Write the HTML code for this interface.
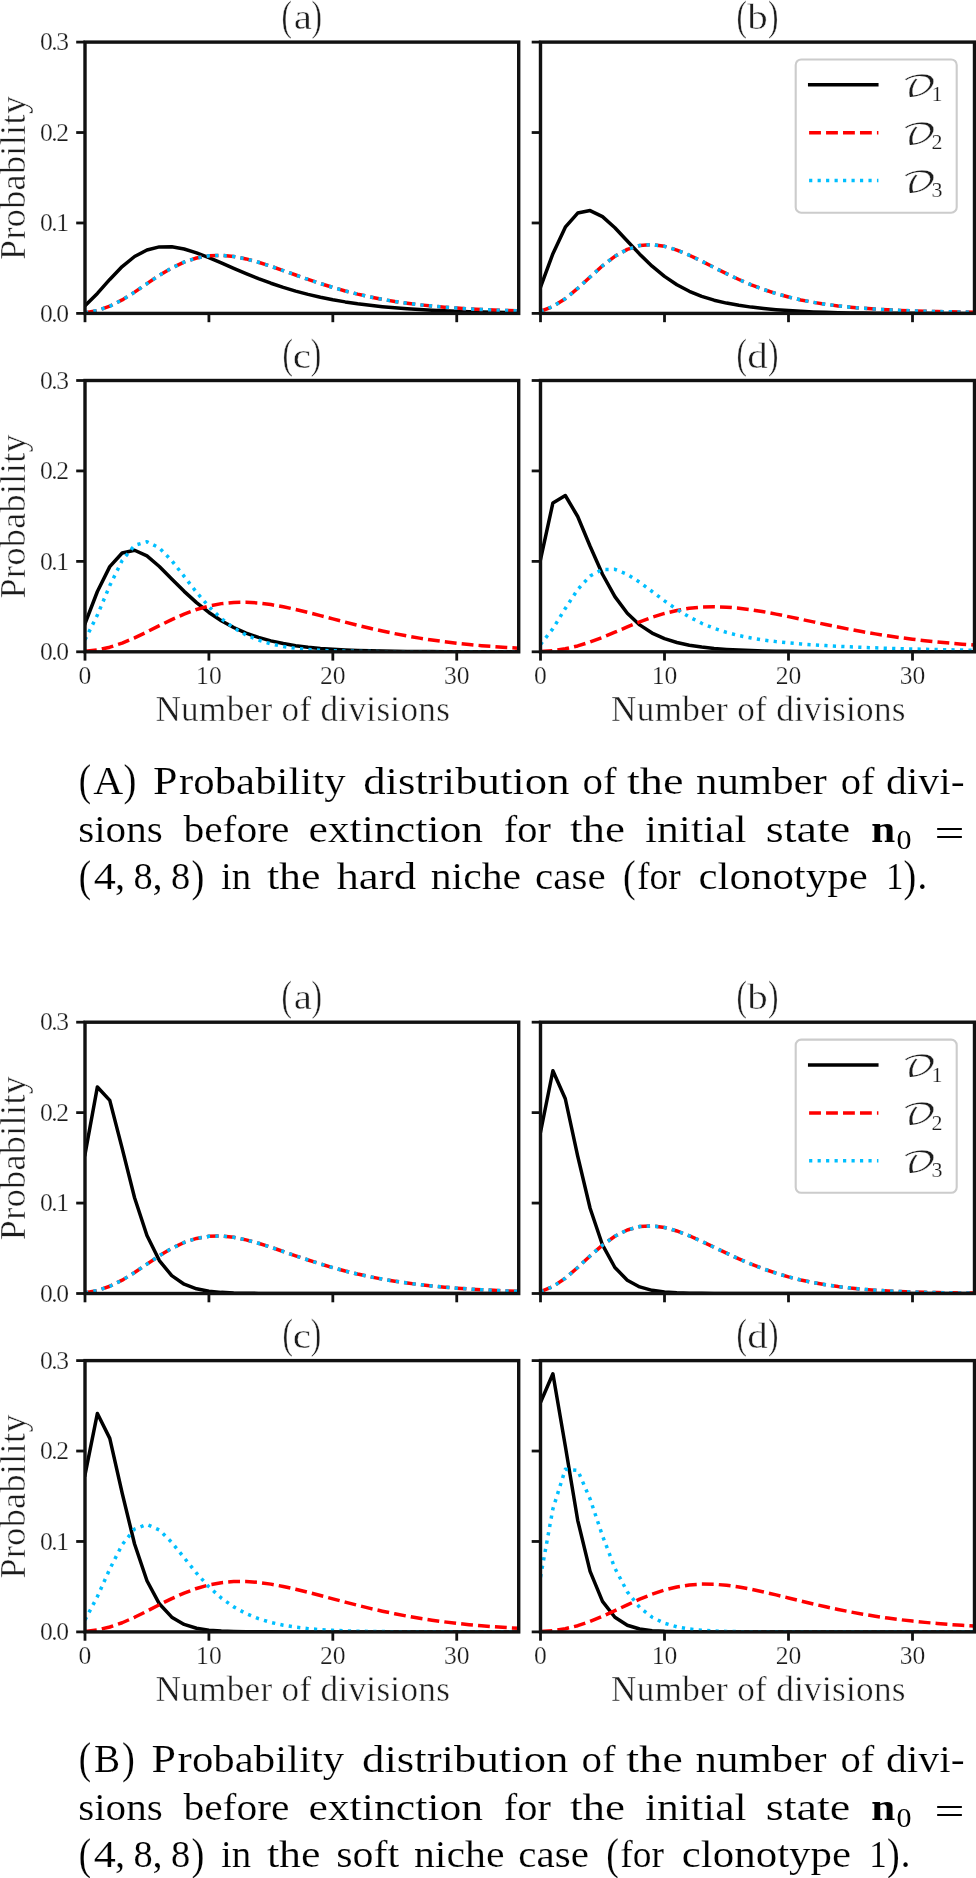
<!DOCTYPE html>
<html><head><meta charset="utf-8"><title>Figure</title>
<style>html,body{margin:0;padding:0;background:#fff}svg{display:block;will-change:transform}</style>
</head><body>
<svg width="976" height="1878" viewBox="0 0 976 1878" font-family="'Liberation Serif','DejaVu Serif',serif" fill="#1c1c1c">
<g id="fig" stroke="#fff" stroke-width="0.45">
<rect width="976" height="1878" fill="#fff"/>
<clipPath id="c85_42"><rect x="85.0" y="42.1" width="433.70" height="271.30"/></clipPath>
<g clip-path="url(#c85_42)" fill="none" stroke-width="3.5" stroke-linejoin="round">
<polyline points="85.00,305.82 97.39,293.41 109.78,279.44 122.17,266.58 134.57,256.51 146.96,249.95 159.35,246.88 171.74,246.80 184.13,249.03 196.52,252.87 208.91,257.68 221.31,262.97 233.70,268.38 246.09,273.66 258.48,278.63 270.87,283.22 283.26,287.38 295.65,291.09 308.05,294.37 320.44,297.25 332.83,299.75 345.22,301.90 357.61,303.76 370.00,305.34 382.39,306.69 394.79,307.82 407.18,308.78 419.57,309.59 431.96,310.26 444.35,310.82 456.74,311.28 469.13,311.67 481.53,311.99 493.92,312.25 506.31,312.46 518.70,312.64" stroke="#000" stroke-linecap="square"/>
<polyline points="85.00,312.71 97.39,310.48 109.78,306.21 122.17,299.92 134.57,292.12 146.96,283.64 159.35,275.32 171.74,267.95 184.13,262.06 196.52,257.99 208.91,255.79 221.31,255.38 233.70,256.53 246.09,258.93 258.48,262.28 270.87,266.25 283.26,270.57 295.65,275.01 308.05,279.38 320.44,283.54 332.83,287.42 345.22,290.96 357.61,294.12 370.00,296.92 382.39,299.35 394.79,301.46 407.18,303.26 419.57,304.79 431.96,306.09 444.35,307.18 456.74,308.09 469.13,308.86 481.53,309.50 493.92,310.04 506.31,310.49 518.70,310.87" stroke="#ff0000" stroke-dasharray="11.84 5.12"/>
<polyline points="85.00,312.71 97.39,310.48 109.78,306.21 122.17,299.92 134.57,292.12 146.96,283.64 159.35,275.32 171.74,267.95 184.13,262.06 196.52,257.99 208.91,255.79 221.31,255.38 233.70,256.53 246.09,258.93 258.48,262.28 270.87,266.25 283.26,270.57 295.65,275.01 308.05,279.38 320.44,283.54 332.83,287.42 345.22,290.96 357.61,294.12 370.00,296.92 382.39,299.35 394.79,301.46 407.18,303.26 419.57,304.79 431.96,306.09 444.35,307.18 456.74,308.09 469.13,308.86 481.53,309.50 493.92,310.04 506.31,310.49 518.70,310.87" stroke="#00bfff" stroke-dasharray="3.2 5.28"/>
</g>
<g stroke="#111" stroke-width="2.8">
<line x1="85.00" y1="313.4" x2="85.00" y2="322.2"/>
<line x1="208.91" y1="313.4" x2="208.91" y2="322.2"/>
<line x1="332.83" y1="313.4" x2="332.83" y2="322.2"/>
<line x1="456.74" y1="313.4" x2="456.74" y2="322.2"/>
<line x1="85.0" y1="313.40" x2="76.2" y2="313.40"/>
<line x1="85.0" y1="222.97" x2="76.2" y2="222.97"/>
<line x1="85.0" y1="132.53" x2="76.2" y2="132.53"/>
<line x1="85.0" y1="42.10" x2="76.2" y2="42.10"/>
</g>
<rect x="85.0" y="42.1" width="433.70" height="271.30" fill="none" stroke="#111" stroke-width="3.4"/>
<text x="69.1" y="321.60" font-size="25.6" stroke-width="0.25" text-anchor="end" textLength="29.2" lengthAdjust="spacing">0.0</text>
<text x="69.1" y="231.17" font-size="25.6" stroke-width="0.25" text-anchor="end" textLength="29.2" lengthAdjust="spacing">0.1</text>
<text x="69.1" y="140.73" font-size="25.6" stroke-width="0.25" text-anchor="end" textLength="29.2" lengthAdjust="spacing">0.2</text>
<text x="69.1" y="50.30" font-size="25.6" stroke-width="0.25" text-anchor="end" textLength="29.2" lengthAdjust="spacing">0.3</text>
<text transform="translate(24.6,178.05) rotate(-90)" font-size="36" text-anchor="middle" textLength="164" lengthAdjust="spacing">Probability</text>
<text transform="translate(291.95,29.70) scale(0.74,1)" font-size="42.5" text-anchor="end">(</text>
<text transform="translate(302.75,29.10) scale(1.17,1)" font-size="35" text-anchor="middle">a</text>
<text transform="translate(311.45,29.70) scale(0.74,1)" font-size="42.5" text-anchor="start">)</text>
<clipPath id="c540_42"><rect x="540.5" y="42.1" width="434.00" height="271.30"/></clipPath>
<g clip-path="url(#c540_42)" fill="none" stroke-width="3.5" stroke-linejoin="round">
<polyline points="540.50,287.23 552.90,253.68 565.30,227.19 577.70,213.04 590.10,210.58 602.50,216.66 614.90,227.76 627.30,240.94 639.70,254.15 652.10,266.17 664.50,276.42 676.90,284.76 689.30,291.31 701.70,296.35 714.10,300.18 726.50,303.09 738.90,305.34 751.30,307.11 763.70,308.52 776.10,309.67 788.50,310.59 800.90,311.32 813.30,311.90 825.70,312.34 838.10,312.67 850.50,312.91 862.90,313.08 875.30,313.19 887.70,313.27 900.10,313.32 912.50,313.35 924.90,313.37 937.30,313.38 949.70,313.39 962.10,313.39 974.50,313.40" stroke="#000" stroke-linecap="square"/>
<polyline points="540.50,311.29 552.90,306.49 565.30,298.70 577.70,288.45 590.10,276.98 602.50,265.81 614.90,256.30 627.30,249.39 639.70,245.50 652.10,244.61 664.50,246.32 676.90,250.07 689.30,255.23 701.70,261.20 714.10,267.48 726.50,273.68 738.90,279.51 751.30,284.82 763.70,289.52 776.10,293.58 788.50,297.04 800.90,299.93 813.30,302.32 825.70,304.29 838.10,305.89 850.50,307.20 862.90,308.26 875.30,309.11 887.70,309.81 900.10,310.38 912.50,310.84 924.90,311.23 937.30,311.55 949.70,311.81 962.10,312.03 974.50,312.22" stroke="#ff0000" stroke-dasharray="11.84 5.12"/>
<polyline points="540.50,311.29 552.90,306.49 565.30,298.70 577.70,288.45 590.10,276.98 602.50,265.81 614.90,256.30 627.30,249.39 639.70,245.50 652.10,244.61 664.50,246.32 676.90,250.07 689.30,255.23 701.70,261.20 714.10,267.48 726.50,273.68 738.90,279.51 751.30,284.82 763.70,289.52 776.10,293.58 788.50,297.04 800.90,299.93 813.30,302.32 825.70,304.29 838.10,305.89 850.50,307.20 862.90,308.26 875.30,309.11 887.70,309.81 900.10,310.38 912.50,310.84 924.90,311.23 937.30,311.55 949.70,311.81 962.10,312.03 974.50,312.22" stroke="#00bfff" stroke-dasharray="3.2 5.28"/>
</g>
<g stroke="#111" stroke-width="2.8">
<line x1="540.50" y1="313.4" x2="540.50" y2="322.2"/>
<line x1="664.50" y1="313.4" x2="664.50" y2="322.2"/>
<line x1="788.50" y1="313.4" x2="788.50" y2="322.2"/>
<line x1="912.50" y1="313.4" x2="912.50" y2="322.2"/>
<line x1="540.5" y1="313.40" x2="531.7" y2="313.40"/>
<line x1="540.5" y1="222.97" x2="531.7" y2="222.97"/>
<line x1="540.5" y1="132.53" x2="531.7" y2="132.53"/>
<line x1="540.5" y1="42.10" x2="531.7" y2="42.10"/>
</g>
<rect x="540.5" y="42.1" width="434.00" height="271.30" fill="none" stroke="#111" stroke-width="3.4"/>
<text transform="translate(746.90,29.70) scale(0.74,1)" font-size="42.5" text-anchor="end">(</text>
<text transform="translate(757.40,29.10) scale(1.17,1)" font-size="35" text-anchor="middle">b</text>
<text transform="translate(767.90,29.70) scale(0.74,1)" font-size="42.5" text-anchor="start">)</text>
<rect x="795.7" y="59.50" width="161.00" height="153.20" rx="5.5" fill="#fff" fill-opacity="0.8" stroke="#ccc" stroke-width="2.1"/>
<line x1="809.7" y1="84.80" x2="876.8" y2="84.80" stroke="#000" stroke-width="3.5" stroke-linecap="square"/>
<text transform="translate(901.8,96.00) scale(1.33,1)" stroke-width="0.25" font-size="28.5" font-family="'DejaVu Math TeX Gyre','DejaVu Serif',serif">&#x1D49F;</text>
<text x="931.6" y="101.40" stroke-width="0.2" font-size="22">1</text>
<line x1="809.1" y1="132.80" x2="878.4" y2="132.80" stroke="#ff0000" stroke-width="3.5" stroke-dasharray="11.84 5.12"/>
<text transform="translate(901.8,144.00) scale(1.33,1)" stroke-width="0.25" font-size="28.5" font-family="'DejaVu Math TeX Gyre','DejaVu Serif',serif">&#x1D49F;</text>
<text x="931.6" y="149.40" stroke-width="0.2" font-size="22">2</text>
<line x1="809.1" y1="180.60" x2="878.4" y2="180.60" stroke="#00bfff" stroke-width="3.5" stroke-dasharray="3.2 5.28"/>
<text transform="translate(901.8,191.80) scale(1.33,1)" stroke-width="0.25" font-size="28.5" font-family="'DejaVu Math TeX Gyre','DejaVu Serif',serif">&#x1D49F;</text>
<text x="931.6" y="197.20" stroke-width="0.2" font-size="22">3</text>
<clipPath id="c85_380"><rect x="85.0" y="380.5" width="433.70" height="271.30"/></clipPath>
<g clip-path="url(#c85_380)" fill="none" stroke-width="3.5" stroke-linejoin="round">
<polyline points="85.00,623.66 97.39,591.50 109.78,566.64 122.17,552.98 134.57,550.28 146.96,555.93 159.35,566.48 171.74,578.94 184.13,591.34 196.52,602.64 208.91,612.45 221.31,620.71 233.70,627.51 246.09,633.03 258.48,637.43 270.87,640.89 283.26,643.58 295.65,645.65 308.05,647.23 320.44,648.42 332.83,649.32 345.22,649.98 357.61,650.47 370.00,650.84 382.39,651.10 394.79,651.30 407.18,651.44 419.57,651.54 431.96,651.61 444.35,651.67 456.74,651.71 469.13,651.73 481.53,651.75 493.92,651.77 506.31,651.78 518.70,651.78" stroke="#000" stroke-linecap="square"/>
<polyline points="85.00,651.36 97.39,649.94 109.78,647.20 122.17,643.10 134.57,637.86 146.96,631.88 159.35,625.62 171.74,619.56 184.13,614.09 196.52,609.50 208.91,605.98 221.31,603.62 233.70,602.39 246.09,602.23 258.48,603.01 270.87,604.59 283.26,606.79 295.65,609.47 308.05,612.47 320.44,615.65 332.83,618.90 345.22,622.13 357.61,625.27 370.00,628.26 382.39,631.06 394.79,633.64 407.18,636.00 419.57,638.13 431.96,640.04 444.35,641.73 456.74,643.22 469.13,644.52 481.53,645.65 493.92,646.62 506.31,647.46 518.70,648.17" stroke="#ff0000" stroke-dasharray="11.84 5.12"/>
<polyline points="85.00,639.81 97.39,615.05 109.78,585.59 122.17,560.48 134.57,545.36 146.96,541.72 159.35,547.89 171.74,560.61 184.13,576.35 196.52,592.28 208.91,606.61 221.31,618.54 233.70,627.91 246.09,635.00 258.48,640.18 270.87,643.89 283.26,646.48 295.65,648.27 308.05,649.49 320.44,650.30 332.83,650.83 345.22,651.19 357.61,651.41 370.00,651.56 382.39,651.65 394.79,651.71 407.18,651.74 419.57,651.76 431.96,651.78 444.35,651.79 456.74,651.79 469.13,651.80 481.53,651.80 493.92,651.80 506.31,651.80 518.70,651.80" stroke="#00bfff" stroke-dasharray="3.2 5.28"/>
</g>
<g stroke="#111" stroke-width="2.8">
<line x1="85.00" y1="651.8" x2="85.00" y2="660.5999999999999"/>
<line x1="208.91" y1="651.8" x2="208.91" y2="660.5999999999999"/>
<line x1="332.83" y1="651.8" x2="332.83" y2="660.5999999999999"/>
<line x1="456.74" y1="651.8" x2="456.74" y2="660.5999999999999"/>
<line x1="85.0" y1="651.80" x2="76.2" y2="651.80"/>
<line x1="85.0" y1="561.37" x2="76.2" y2="561.37"/>
<line x1="85.0" y1="470.93" x2="76.2" y2="470.93"/>
<line x1="85.0" y1="380.50" x2="76.2" y2="380.50"/>
</g>
<rect x="85.0" y="380.5" width="433.70" height="271.30" fill="none" stroke="#111" stroke-width="3.4"/>
<text x="69.1" y="660.00" font-size="25.6" stroke-width="0.25" text-anchor="end" textLength="29.2" lengthAdjust="spacing">0.0</text>
<text x="69.1" y="569.57" font-size="25.6" stroke-width="0.25" text-anchor="end" textLength="29.2" lengthAdjust="spacing">0.1</text>
<text x="69.1" y="479.13" font-size="25.6" stroke-width="0.25" text-anchor="end" textLength="29.2" lengthAdjust="spacing">0.2</text>
<text x="69.1" y="388.70" font-size="25.6" stroke-width="0.25" text-anchor="end" textLength="29.2" lengthAdjust="spacing">0.3</text>
<text transform="translate(24.6,516.45) rotate(-90)" font-size="36" text-anchor="middle" textLength="164" lengthAdjust="spacing">Probability</text>
<text x="85.00" y="684.20" font-size="25.6" stroke-width="0.25" text-anchor="middle">0</text>
<text x="208.91" y="684.20" font-size="25.6" stroke-width="0.25" text-anchor="middle">10</text>
<text x="332.83" y="684.20" font-size="25.6" stroke-width="0.25" text-anchor="middle">20</text>
<text x="456.74" y="684.20" font-size="25.6" stroke-width="0.25" text-anchor="middle">30</text>
<text x="302.65" y="721.00" font-size="35.2" text-anchor="middle" textLength="294.5" lengthAdjust="spacing">Number of divisions</text>
<text transform="translate(292.95,368.10) scale(0.74,1)" font-size="42.5" text-anchor="end">(</text>
<text transform="translate(301.85,367.50) scale(1.17,1)" font-size="35" text-anchor="middle">c</text>
<text transform="translate(310.75,368.10) scale(0.74,1)" font-size="42.5" text-anchor="start">)</text>
<clipPath id="c540_380"><rect x="540.5" y="380.5" width="434.00" height="271.30"/></clipPath>
<g clip-path="url(#c540_380)" fill="none" stroke-width="3.5" stroke-linejoin="round">
<polyline points="540.50,559.77 552.90,502.88 565.30,495.51 577.70,516.49 590.10,546.25 602.50,574.23 614.90,596.65 627.30,613.21 639.70,624.91 652.10,633.03 664.50,638.62 676.90,642.48 689.30,645.18 701.70,647.07 714.10,648.41 726.50,649.37 738.90,650.06 751.30,650.56 763.70,650.91 776.10,651.17 788.50,651.35 800.90,651.48 813.30,651.58 825.70,651.64 838.10,651.69 850.50,651.72 862.90,651.75 875.30,651.76 887.70,651.77 900.10,651.78 912.50,651.79 924.90,651.79 937.30,651.79 949.70,651.80 962.10,651.80 974.50,651.80" stroke="#000" stroke-linecap="square"/>
<polyline points="540.50,651.54 552.90,650.65 565.30,648.82 577.70,645.93 590.10,642.03 602.50,637.35 614.90,632.20 627.30,626.93 639.70,621.87 652.10,617.31 664.50,613.45 676.90,610.43 689.30,608.32 701.70,607.10 714.10,606.74 726.50,607.14 738.90,608.19 751.30,609.79 763.70,611.80 776.10,614.12 788.50,616.64 800.90,619.26 813.30,621.91 825.70,624.53 838.10,627.07 850.50,629.49 862.90,631.77 875.30,633.88 887.70,635.83 900.10,637.61 912.50,639.22 924.90,640.67 937.30,641.96 949.70,643.12 962.10,644.14 974.50,645.05" stroke="#ff0000" stroke-dasharray="11.84 5.12"/>
<polyline points="540.50,644.48 552.90,628.64 565.30,608.43 577.70,589.50 590.10,575.95 602.50,569.39 614.90,569.36 627.30,574.27 639.70,582.22 652.10,591.50 664.50,600.85 676.90,609.48 689.30,616.99 701.70,623.26 714.10,628.34 726.50,632.39 738.90,635.58 751.30,638.08 763.70,640.05 776.10,641.63 788.50,642.91 800.90,643.96 813.30,644.85 825.70,645.61 838.10,646.27 850.50,646.86 862.90,647.38 875.30,647.85 887.70,648.26 900.10,648.64 912.50,648.99 924.90,649.29 937.30,649.57 949.70,649.82 962.10,650.05 974.50,650.25" stroke="#00bfff" stroke-dasharray="3.2 5.28"/>
</g>
<g stroke="#111" stroke-width="2.8">
<line x1="540.50" y1="651.8" x2="540.50" y2="660.5999999999999"/>
<line x1="664.50" y1="651.8" x2="664.50" y2="660.5999999999999"/>
<line x1="788.50" y1="651.8" x2="788.50" y2="660.5999999999999"/>
<line x1="912.50" y1="651.8" x2="912.50" y2="660.5999999999999"/>
<line x1="540.5" y1="651.80" x2="531.7" y2="651.80"/>
<line x1="540.5" y1="561.37" x2="531.7" y2="561.37"/>
<line x1="540.5" y1="470.93" x2="531.7" y2="470.93"/>
<line x1="540.5" y1="380.50" x2="531.7" y2="380.50"/>
</g>
<rect x="540.5" y="380.5" width="434.00" height="271.30" fill="none" stroke="#111" stroke-width="3.4"/>
<text x="540.50" y="684.20" font-size="25.6" stroke-width="0.25" text-anchor="middle">0</text>
<text x="664.50" y="684.20" font-size="25.6" stroke-width="0.25" text-anchor="middle">10</text>
<text x="788.50" y="684.20" font-size="25.6" stroke-width="0.25" text-anchor="middle">20</text>
<text x="912.50" y="684.20" font-size="25.6" stroke-width="0.25" text-anchor="middle">30</text>
<text x="758.30" y="721.00" font-size="35.2" text-anchor="middle" textLength="294.5" lengthAdjust="spacing">Number of divisions</text>
<text transform="translate(746.90,368.10) scale(0.74,1)" font-size="42.5" text-anchor="end">(</text>
<text transform="translate(757.50,367.50) scale(1.17,1)" font-size="35" text-anchor="middle">d</text>
<text transform="translate(767.90,368.10) scale(0.74,1)" font-size="42.5" text-anchor="start">)</text>
<g font-size="37.5" fill="#000" stroke="#fff" stroke-width="0.15">
<text transform="translate(78.85,794.80) scale(0.827,1)" font-size="45">(</text>
<text x="93.20" y="793.60" font-size="40.31" textLength="30.0" lengthAdjust="spacingAndGlyphs">A</text>
<text transform="translate(123.49,794.80) scale(0.858,1)" font-size="45">)</text>
<text x="152.90" y="793.60" font-size="40.31" textLength="24.5" lengthAdjust="spacingAndGlyphs">P</text>
<text x="179.00" y="793.60" textLength="166.6" lengthAdjust="spacingAndGlyphs">robability</text>
<text x="363.15" y="793.60" textLength="206.4" lengthAdjust="spacingAndGlyphs">distribution</text>
<text x="582.50" y="793.60" textLength="34.1" lengthAdjust="spacingAndGlyphs">of</text>
<text x="626.90" y="793.60" textLength="56.6" lengthAdjust="spacingAndGlyphs">the</text>
<text x="696.00" y="793.60" textLength="130.9" lengthAdjust="spacingAndGlyphs">number</text>
<text x="840.70" y="793.60" textLength="33.9" lengthAdjust="spacingAndGlyphs">of</text>
<text x="886.00" y="793.60" textLength="78.6" lengthAdjust="spacingAndGlyphs">divi-</text>
<text x="78.15" y="841.50" textLength="84.6" lengthAdjust="spacingAndGlyphs">sions</text>
<text x="183.40" y="841.50" textLength="106.0" lengthAdjust="spacingAndGlyphs">before</text>
<text x="308.40" y="841.50" textLength="174.7" lengthAdjust="spacingAndGlyphs">extinction</text>
<text x="503.80" y="841.50" textLength="47.1" lengthAdjust="spacingAndGlyphs">for</text>
<text x="570.00" y="841.50" textLength="55.0" lengthAdjust="spacingAndGlyphs">the</text>
<text x="645.00" y="841.50" textLength="101.6" lengthAdjust="spacingAndGlyphs">initial</text>
<text x="765.70" y="841.50" textLength="84.7" lengthAdjust="spacingAndGlyphs">state</text>
<text transform="translate(78.85,890.60) scale(0.827,1)" font-size="45">(</text>
<text x="93.80" y="889.40" textLength="22.1" lengthAdjust="spacingAndGlyphs">4</text>
<text x="115.00" y="889.40" font-size="40.5">,</text>
<text x="133.40" y="889.40" textLength="19.2" lengthAdjust="spacingAndGlyphs">8</text>
<text x="152.40" y="889.40" font-size="40.5">,</text>
<text x="171.00" y="889.40" textLength="19.2" lengthAdjust="spacingAndGlyphs">8</text>
<text transform="translate(191.59,890.60) scale(0.858,1)" font-size="45">)</text>
<text x="221.00" y="889.40" textLength="30.2" lengthAdjust="spacingAndGlyphs">in</text>
<text x="266.90" y="889.40" textLength="53.7" lengthAdjust="spacingAndGlyphs">the</text>
<text x="336.40" y="889.40" textLength="79.7" lengthAdjust="spacingAndGlyphs">hard</text>
<text x="430.65" y="889.40" textLength="90.5" lengthAdjust="spacingAndGlyphs">niche</text>
<text x="535.00" y="889.40" textLength="70.6" lengthAdjust="spacingAndGlyphs">case</text>
<text transform="translate(622.92,890.60) scale(0.842,1)" font-size="45">(</text>
<text x="637.00" y="889.40" textLength="43.6" lengthAdjust="spacingAndGlyphs">for</text>
<text x="698.50" y="889.40" textLength="169.3" lengthAdjust="spacingAndGlyphs">clonotype</text>
<text x="886.00" y="889.40" textLength="17.5" lengthAdjust="spacingAndGlyphs">1</text>
<text transform="translate(903.60,890.60) scale(0.850,1)" font-size="45">)</text>
<text x="917.20" y="889.40" font-size="40.5">.</text>
<text x="871" y="841.50" font-weight="bold" textLength="24.4" lengthAdjust="spacingAndGlyphs">n</text>
<text x="896.6" y="848.80" font-size="27" stroke="none" textLength="15" lengthAdjust="spacingAndGlyphs">0</text>
<text x="934.6" y="845.90" stroke="none" textLength="30" lengthAdjust="spacingAndGlyphs">=</text>
</g>
<clipPath id="c85_1022"><rect x="85.0" y="1022.2" width="433.70" height="271.30"/></clipPath>
<g clip-path="url(#c85_1022)" fill="none" stroke-width="3.5" stroke-linejoin="round">
<polyline points="85.00,1154.46 97.39,1086.94 109.78,1100.34 122.17,1148.32 134.57,1197.71 146.96,1235.56 159.35,1260.59 171.74,1275.67 184.13,1284.19 196.52,1288.78 208.91,1291.16 221.31,1292.37 233.70,1292.96 246.09,1293.25 258.48,1293.38 270.87,1293.45 283.26,1293.48 295.65,1293.49 308.05,1293.50 320.44,1293.50 332.83,1293.50 345.22,1293.50 357.61,1293.50 370.00,1293.50 382.39,1293.50 394.79,1293.50 407.18,1293.50 419.57,1293.50 431.96,1293.50 444.35,1293.50 456.74,1293.50 469.13,1293.50 481.53,1293.50 493.92,1293.50 506.31,1293.50 518.70,1293.50" stroke="#000" stroke-linecap="square"/>
<polyline points="85.00,1292.75 97.39,1290.49 109.78,1286.28 122.17,1280.15 134.57,1272.51 146.96,1264.10 159.35,1255.80 171.74,1248.39 184.13,1242.48 196.52,1238.43 208.91,1236.32 221.31,1236.03 233.70,1237.32 246.09,1239.84 258.48,1243.25 270.87,1247.22 283.26,1251.47 295.65,1255.78 308.05,1259.98 320.44,1263.96 332.83,1267.66 345.22,1271.02 357.61,1274.05 370.00,1276.75 382.39,1279.13 394.79,1281.22 407.18,1283.04 419.57,1284.61 431.96,1285.98 444.35,1287.15 456.74,1288.15 469.13,1289.01 481.53,1289.74 493.92,1290.35 506.31,1290.88 518.70,1291.32" stroke="#ff0000" stroke-dasharray="11.84 5.12"/>
<polyline points="85.00,1292.75 97.39,1290.49 109.78,1286.28 122.17,1280.15 134.57,1272.51 146.96,1264.10 159.35,1255.80 171.74,1248.39 184.13,1242.48 196.52,1238.43 208.91,1236.32 221.31,1236.03 233.70,1237.32 246.09,1239.84 258.48,1243.25 270.87,1247.22 283.26,1251.47 295.65,1255.78 308.05,1259.98 320.44,1263.96 332.83,1267.66 345.22,1271.02 357.61,1274.05 370.00,1276.75 382.39,1279.13 394.79,1281.22 407.18,1283.04 419.57,1284.61 431.96,1285.98 444.35,1287.15 456.74,1288.15 469.13,1289.01 481.53,1289.74 493.92,1290.35 506.31,1290.88 518.70,1291.32" stroke="#00bfff" stroke-dasharray="3.2 5.28"/>
</g>
<g stroke="#111" stroke-width="2.8">
<line x1="85.00" y1="1293.5" x2="85.00" y2="1302.3"/>
<line x1="208.91" y1="1293.5" x2="208.91" y2="1302.3"/>
<line x1="332.83" y1="1293.5" x2="332.83" y2="1302.3"/>
<line x1="456.74" y1="1293.5" x2="456.74" y2="1302.3"/>
<line x1="85.0" y1="1293.50" x2="76.2" y2="1293.50"/>
<line x1="85.0" y1="1203.07" x2="76.2" y2="1203.07"/>
<line x1="85.0" y1="1112.63" x2="76.2" y2="1112.63"/>
<line x1="85.0" y1="1022.20" x2="76.2" y2="1022.20"/>
</g>
<rect x="85.0" y="1022.2" width="433.70" height="271.30" fill="none" stroke="#111" stroke-width="3.4"/>
<text x="69.1" y="1301.70" font-size="25.6" stroke-width="0.25" text-anchor="end" textLength="29.2" lengthAdjust="spacing">0.0</text>
<text x="69.1" y="1211.27" font-size="25.6" stroke-width="0.25" text-anchor="end" textLength="29.2" lengthAdjust="spacing">0.1</text>
<text x="69.1" y="1120.83" font-size="25.6" stroke-width="0.25" text-anchor="end" textLength="29.2" lengthAdjust="spacing">0.2</text>
<text x="69.1" y="1030.40" font-size="25.6" stroke-width="0.25" text-anchor="end" textLength="29.2" lengthAdjust="spacing">0.3</text>
<text transform="translate(24.6,1158.15) rotate(-90)" font-size="36" text-anchor="middle" textLength="164" lengthAdjust="spacing">Probability</text>
<text transform="translate(291.95,1009.80) scale(0.74,1)" font-size="42.5" text-anchor="end">(</text>
<text transform="translate(302.75,1009.20) scale(1.17,1)" font-size="35" text-anchor="middle">a</text>
<text transform="translate(311.45,1009.80) scale(0.74,1)" font-size="42.5" text-anchor="start">)</text>
<clipPath id="c540_1022"><rect x="540.5" y="1022.2" width="434.00" height="271.30"/></clipPath>
<g clip-path="url(#c540_1022)" fill="none" stroke-width="3.5" stroke-linejoin="round">
<polyline points="540.50,1132.31 552.90,1070.76 565.30,1098.75 577.70,1156.17 590.10,1208.28 602.50,1244.94 614.90,1267.48 627.30,1280.18 639.70,1286.93 652.10,1290.35 664.50,1292.02 676.90,1292.82 689.30,1293.19 701.70,1293.36 714.10,1293.44 726.50,1293.47 738.90,1293.49 751.30,1293.50 763.70,1293.50 776.10,1293.50 788.50,1293.50 800.90,1293.50 813.30,1293.50 825.70,1293.50 838.10,1293.50 850.50,1293.50 862.90,1293.50 875.30,1293.50 887.70,1293.50 900.10,1293.50 912.50,1293.50 924.90,1293.50 937.30,1293.50 949.70,1293.50 962.10,1293.50 974.50,1293.50" stroke="#000" stroke-linecap="square"/>
<polyline points="540.50,1291.69 552.90,1286.64 565.30,1278.24 577.70,1267.49 590.10,1255.94 602.50,1245.13 614.90,1236.24 627.30,1229.97 639.70,1226.56 652.10,1225.87 664.50,1227.51 676.90,1230.99 689.30,1235.77 701.70,1241.33 714.10,1247.25 726.50,1253.19 738.90,1258.89 751.30,1264.18 763.70,1268.96 776.10,1273.19 788.50,1276.86 800.90,1279.98 813.30,1282.61 825.70,1284.80 838.10,1286.60 850.50,1288.06 862.90,1289.24 875.30,1290.18 887.70,1290.93 900.10,1291.51 912.50,1291.98 924.90,1292.34 937.30,1292.61 949.70,1292.83 962.10,1292.99 974.50,1293.12" stroke="#ff0000" stroke-dasharray="11.84 5.12"/>
<polyline points="540.50,1291.69 552.90,1286.64 565.30,1278.24 577.70,1267.49 590.10,1255.94 602.50,1245.13 614.90,1236.24 627.30,1229.97 639.70,1226.56 652.10,1225.87 664.50,1227.51 676.90,1230.99 689.30,1235.77 701.70,1241.33 714.10,1247.25 726.50,1253.19 738.90,1258.89 751.30,1264.18 763.70,1268.96 776.10,1273.19 788.50,1276.86 800.90,1279.98 813.30,1282.61 825.70,1284.80 838.10,1286.60 850.50,1288.06 862.90,1289.24 875.30,1290.18 887.70,1290.93 900.10,1291.51 912.50,1291.98 924.90,1292.34 937.30,1292.61 949.70,1292.83 962.10,1292.99 974.50,1293.12" stroke="#00bfff" stroke-dasharray="3.2 5.28"/>
</g>
<g stroke="#111" stroke-width="2.8">
<line x1="540.50" y1="1293.5" x2="540.50" y2="1302.3"/>
<line x1="664.50" y1="1293.5" x2="664.50" y2="1302.3"/>
<line x1="788.50" y1="1293.5" x2="788.50" y2="1302.3"/>
<line x1="912.50" y1="1293.5" x2="912.50" y2="1302.3"/>
<line x1="540.5" y1="1293.50" x2="531.7" y2="1293.50"/>
<line x1="540.5" y1="1203.07" x2="531.7" y2="1203.07"/>
<line x1="540.5" y1="1112.63" x2="531.7" y2="1112.63"/>
<line x1="540.5" y1="1022.20" x2="531.7" y2="1022.20"/>
</g>
<rect x="540.5" y="1022.2" width="434.00" height="271.30" fill="none" stroke="#111" stroke-width="3.4"/>
<text transform="translate(746.90,1009.80) scale(0.74,1)" font-size="42.5" text-anchor="end">(</text>
<text transform="translate(757.40,1009.20) scale(1.17,1)" font-size="35" text-anchor="middle">b</text>
<text transform="translate(767.90,1009.80) scale(0.74,1)" font-size="42.5" text-anchor="start">)</text>
<rect x="795.7" y="1039.60" width="161.00" height="153.20" rx="5.5" fill="#fff" fill-opacity="0.8" stroke="#ccc" stroke-width="2.1"/>
<line x1="809.7" y1="1064.90" x2="876.8" y2="1064.90" stroke="#000" stroke-width="3.5" stroke-linecap="square"/>
<text transform="translate(901.8,1076.10) scale(1.33,1)" stroke-width="0.25" font-size="28.5" font-family="'DejaVu Math TeX Gyre','DejaVu Serif',serif">&#x1D49F;</text>
<text x="931.6" y="1081.50" stroke-width="0.2" font-size="22">1</text>
<line x1="809.1" y1="1112.90" x2="878.4" y2="1112.90" stroke="#ff0000" stroke-width="3.5" stroke-dasharray="11.84 5.12"/>
<text transform="translate(901.8,1124.10) scale(1.33,1)" stroke-width="0.25" font-size="28.5" font-family="'DejaVu Math TeX Gyre','DejaVu Serif',serif">&#x1D49F;</text>
<text x="931.6" y="1129.50" stroke-width="0.2" font-size="22">2</text>
<line x1="809.1" y1="1160.70" x2="878.4" y2="1160.70" stroke="#00bfff" stroke-width="3.5" stroke-dasharray="3.2 5.28"/>
<text transform="translate(901.8,1171.90) scale(1.33,1)" stroke-width="0.25" font-size="28.5" font-family="'DejaVu Math TeX Gyre','DejaVu Serif',serif">&#x1D49F;</text>
<text x="931.6" y="1177.30" stroke-width="0.2" font-size="22">3</text>
<clipPath id="c85_1360"><rect x="85.0" y="1360.6" width="433.70" height="271.30"/></clipPath>
<g clip-path="url(#c85_1360)" fill="none" stroke-width="3.5" stroke-linejoin="round">
<polyline points="85.00,1474.86 97.39,1413.44 109.78,1438.40 122.17,1493.10 134.57,1544.03 146.96,1580.72 159.35,1603.81 171.74,1617.16 184.13,1624.43 196.52,1628.22 208.91,1630.13 221.31,1631.06 233.70,1631.51 246.09,1631.72 258.48,1631.82 270.87,1631.86 283.26,1631.88 295.65,1631.89 308.05,1631.90 320.44,1631.90 332.83,1631.90 345.22,1631.90 357.61,1631.90 370.00,1631.90 382.39,1631.90 394.79,1631.90 407.18,1631.90 419.57,1631.90 431.96,1631.90 444.35,1631.90 456.74,1631.90 469.13,1631.90 481.53,1631.90 493.92,1631.90 506.31,1631.90 518.70,1631.90" stroke="#000" stroke-linecap="square"/>
<polyline points="85.00,1631.42 97.39,1629.91 109.78,1627.02 122.17,1622.73 134.57,1617.29 146.96,1611.12 159.35,1604.72 171.74,1598.56 184.13,1593.05 196.52,1588.46 208.91,1584.99 221.31,1582.71 233.70,1581.58 246.09,1581.54 258.48,1582.44 270.87,1584.13 283.26,1586.44 295.65,1589.22 308.05,1592.30 320.44,1595.56 332.83,1598.87 345.22,1602.15 357.61,1605.33 370.00,1608.35 382.39,1611.17 394.79,1613.77 407.18,1616.14 419.57,1618.28 431.96,1620.18 444.35,1621.88 456.74,1623.36 469.13,1624.66 481.53,1625.78 493.92,1626.75 506.31,1627.59 518.70,1628.30" stroke="#ff0000" stroke-dasharray="11.84 5.12"/>
<polyline points="85.00,1619.88 97.39,1596.62 109.78,1569.07 122.17,1544.68 134.57,1529.02 146.96,1524.43 159.35,1529.95 171.74,1542.31 184.13,1557.73 196.52,1573.15 208.91,1586.81 221.31,1598.04 233.70,1606.87 246.09,1613.62 258.48,1618.69 270.87,1622.44 283.26,1625.20 295.65,1627.19 308.05,1628.63 320.44,1629.64 332.83,1630.36 345.22,1630.85 357.61,1631.20 370.00,1631.43 382.39,1631.59 394.79,1631.69 407.18,1631.76 419.57,1631.81 431.96,1631.84 444.35,1631.86 456.74,1631.88 469.13,1631.88 481.53,1631.89 493.92,1631.89 506.31,1631.90 518.70,1631.90" stroke="#00bfff" stroke-dasharray="3.2 5.28"/>
</g>
<g stroke="#111" stroke-width="2.8">
<line x1="85.00" y1="1631.9" x2="85.00" y2="1640.7"/>
<line x1="208.91" y1="1631.9" x2="208.91" y2="1640.7"/>
<line x1="332.83" y1="1631.9" x2="332.83" y2="1640.7"/>
<line x1="456.74" y1="1631.9" x2="456.74" y2="1640.7"/>
<line x1="85.0" y1="1631.90" x2="76.2" y2="1631.90"/>
<line x1="85.0" y1="1541.47" x2="76.2" y2="1541.47"/>
<line x1="85.0" y1="1451.03" x2="76.2" y2="1451.03"/>
<line x1="85.0" y1="1360.60" x2="76.2" y2="1360.60"/>
</g>
<rect x="85.0" y="1360.6" width="433.70" height="271.30" fill="none" stroke="#111" stroke-width="3.4"/>
<text x="69.1" y="1640.10" font-size="25.6" stroke-width="0.25" text-anchor="end" textLength="29.2" lengthAdjust="spacing">0.0</text>
<text x="69.1" y="1549.67" font-size="25.6" stroke-width="0.25" text-anchor="end" textLength="29.2" lengthAdjust="spacing">0.1</text>
<text x="69.1" y="1459.23" font-size="25.6" stroke-width="0.25" text-anchor="end" textLength="29.2" lengthAdjust="spacing">0.2</text>
<text x="69.1" y="1368.80" font-size="25.6" stroke-width="0.25" text-anchor="end" textLength="29.2" lengthAdjust="spacing">0.3</text>
<text transform="translate(24.6,1496.55) rotate(-90)" font-size="36" text-anchor="middle" textLength="164" lengthAdjust="spacing">Probability</text>
<text x="85.00" y="1664.30" font-size="25.6" stroke-width="0.25" text-anchor="middle">0</text>
<text x="208.91" y="1664.30" font-size="25.6" stroke-width="0.25" text-anchor="middle">10</text>
<text x="332.83" y="1664.30" font-size="25.6" stroke-width="0.25" text-anchor="middle">20</text>
<text x="456.74" y="1664.30" font-size="25.6" stroke-width="0.25" text-anchor="middle">30</text>
<text x="302.65" y="1701.10" font-size="35.2" text-anchor="middle" textLength="294.5" lengthAdjust="spacing">Number of divisions</text>
<text transform="translate(292.95,1348.20) scale(0.74,1)" font-size="42.5" text-anchor="end">(</text>
<text transform="translate(301.85,1347.60) scale(1.17,1)" font-size="35" text-anchor="middle">c</text>
<text transform="translate(310.75,1348.20) scale(0.74,1)" font-size="42.5" text-anchor="start">)</text>
<clipPath id="c540_1360"><rect x="540.5" y="1360.6" width="434.00" height="271.30"/></clipPath>
<g clip-path="url(#c540_1360)" fill="none" stroke-width="3.5" stroke-linejoin="round">
<polyline points="540.50,1402.45 552.90,1373.81 565.30,1446.01 577.70,1520.30 590.10,1571.36 602.50,1601.32 614.90,1617.29 627.30,1625.22 639.70,1628.95 652.10,1630.64 664.50,1631.37 676.90,1631.68 689.30,1631.81 701.70,1631.87 714.10,1631.89 726.50,1631.89 738.90,1631.90 751.30,1631.90 763.70,1631.90 776.10,1631.90 788.50,1631.90 800.90,1631.90 813.30,1631.90 825.70,1631.90 838.10,1631.90 850.50,1631.90 862.90,1631.90 875.30,1631.90 887.70,1631.90 900.10,1631.90 912.50,1631.90 924.90,1631.90 937.30,1631.90 949.70,1631.90 962.10,1631.90 974.50,1631.90" stroke="#000" stroke-linecap="square"/>
<polyline points="540.50,1631.59 552.90,1630.64 565.30,1628.73 577.70,1625.68 590.10,1621.49 602.50,1616.38 614.90,1610.68 627.30,1604.80 639.70,1599.18 652.10,1594.16 664.50,1590.02 676.90,1586.93 689.30,1584.97 701.70,1584.10 714.10,1584.24 726.50,1585.26 738.90,1587.00 751.30,1589.29 763.70,1591.97 776.10,1594.90 788.50,1597.93 800.90,1600.98 813.30,1603.96 825.70,1606.80 838.10,1609.47 850.50,1611.93 862.90,1614.19 875.30,1616.22 887.70,1618.05 900.10,1619.67 912.50,1621.11 924.90,1622.38 937.30,1623.49 949.70,1624.47 962.10,1625.32 974.50,1626.07" stroke="#ff0000" stroke-dasharray="11.84 5.12"/>
<polyline points="540.50,1577.08 552.90,1508.89 565.30,1469.24 577.70,1470.28 590.10,1498.96 602.50,1535.84 614.90,1568.18 627.30,1591.79 639.70,1607.41 652.10,1617.21 664.50,1623.21 676.90,1626.83 689.30,1628.98 701.70,1630.24 714.10,1630.97 726.50,1631.38 738.90,1631.62 751.30,1631.75 763.70,1631.82 776.10,1631.86 788.50,1631.88 800.90,1631.89 813.30,1631.89 825.70,1631.90 838.10,1631.90 850.50,1631.90 862.90,1631.90 875.30,1631.90 887.70,1631.90 900.10,1631.90 912.50,1631.90 924.90,1631.90 937.30,1631.90 949.70,1631.90 962.10,1631.90 974.50,1631.90" stroke="#00bfff" stroke-dasharray="3.2 5.28"/>
</g>
<g stroke="#111" stroke-width="2.8">
<line x1="540.50" y1="1631.9" x2="540.50" y2="1640.7"/>
<line x1="664.50" y1="1631.9" x2="664.50" y2="1640.7"/>
<line x1="788.50" y1="1631.9" x2="788.50" y2="1640.7"/>
<line x1="912.50" y1="1631.9" x2="912.50" y2="1640.7"/>
<line x1="540.5" y1="1631.90" x2="531.7" y2="1631.90"/>
<line x1="540.5" y1="1541.47" x2="531.7" y2="1541.47"/>
<line x1="540.5" y1="1451.03" x2="531.7" y2="1451.03"/>
<line x1="540.5" y1="1360.60" x2="531.7" y2="1360.60"/>
</g>
<rect x="540.5" y="1360.6" width="434.00" height="271.30" fill="none" stroke="#111" stroke-width="3.4"/>
<text x="540.50" y="1664.30" font-size="25.6" stroke-width="0.25" text-anchor="middle">0</text>
<text x="664.50" y="1664.30" font-size="25.6" stroke-width="0.25" text-anchor="middle">10</text>
<text x="788.50" y="1664.30" font-size="25.6" stroke-width="0.25" text-anchor="middle">20</text>
<text x="912.50" y="1664.30" font-size="25.6" stroke-width="0.25" text-anchor="middle">30</text>
<text x="758.30" y="1701.10" font-size="35.2" text-anchor="middle" textLength="294.5" lengthAdjust="spacing">Number of divisions</text>
<text transform="translate(746.90,1348.20) scale(0.74,1)" font-size="42.5" text-anchor="end">(</text>
<text transform="translate(757.50,1347.60) scale(1.17,1)" font-size="35" text-anchor="middle">d</text>
<text transform="translate(767.90,1348.20) scale(0.74,1)" font-size="42.5" text-anchor="start">)</text>
<g font-size="37.5" fill="#000" stroke="#fff" stroke-width="0.15">
<text transform="translate(78.85,1772.80) scale(0.827,1)" font-size="45">(</text>
<text x="93.90" y="1771.60" font-size="40.31" textLength="26.1" lengthAdjust="spacingAndGlyphs">B</text>
<text transform="translate(121.89,1772.80) scale(0.858,1)" font-size="45">)</text>
<text x="151.53" y="1771.60" font-size="40.31" textLength="24.5" lengthAdjust="spacingAndGlyphs">P</text>
<text x="177.63" y="1771.60" textLength="166.6" lengthAdjust="spacingAndGlyphs">robability</text>
<text x="362.01" y="1771.60" textLength="206.5" lengthAdjust="spacingAndGlyphs">distribution</text>
<text x="581.59" y="1771.60" textLength="34.1" lengthAdjust="spacingAndGlyphs">of</text>
<text x="626.21" y="1771.60" textLength="56.6" lengthAdjust="spacingAndGlyphs">the</text>
<text x="695.54" y="1771.60" textLength="130.9" lengthAdjust="spacingAndGlyphs">number</text>
<text x="840.47" y="1771.60" textLength="33.9" lengthAdjust="spacingAndGlyphs">of</text>
<text x="886.00" y="1771.60" textLength="78.6" lengthAdjust="spacingAndGlyphs">divi-</text>
<text x="78.15" y="1819.50" textLength="84.6" lengthAdjust="spacingAndGlyphs">sions</text>
<text x="183.40" y="1819.50" textLength="106.0" lengthAdjust="spacingAndGlyphs">before</text>
<text x="308.40" y="1819.50" textLength="174.7" lengthAdjust="spacingAndGlyphs">extinction</text>
<text x="503.80" y="1819.50" textLength="47.1" lengthAdjust="spacingAndGlyphs">for</text>
<text x="570.00" y="1819.50" textLength="55.0" lengthAdjust="spacingAndGlyphs">the</text>
<text x="645.00" y="1819.50" textLength="101.6" lengthAdjust="spacingAndGlyphs">initial</text>
<text x="765.70" y="1819.50" textLength="84.7" lengthAdjust="spacingAndGlyphs">state</text>
<text transform="translate(78.85,1868.60) scale(0.827,1)" font-size="45">(</text>
<text x="93.80" y="1867.40" textLength="22.1" lengthAdjust="spacingAndGlyphs">4</text>
<text x="115.00" y="1867.40" font-size="40.5">,</text>
<text x="133.40" y="1867.40" textLength="19.2" lengthAdjust="spacingAndGlyphs">8</text>
<text x="152.40" y="1867.40" font-size="40.5">,</text>
<text x="171.00" y="1867.40" textLength="19.2" lengthAdjust="spacingAndGlyphs">8</text>
<text transform="translate(191.59,1868.60) scale(0.858,1)" font-size="45">)</text>
<text x="221.00" y="1867.40" textLength="30.2" lengthAdjust="spacingAndGlyphs">in</text>
<text x="266.90" y="1867.40" textLength="53.7" lengthAdjust="spacingAndGlyphs">the</text>
<text x="336.30" y="1867.40" textLength="62.9" lengthAdjust="spacingAndGlyphs">soft</text>
<text x="413.95" y="1867.40" textLength="90.5" lengthAdjust="spacingAndGlyphs">niche</text>
<text x="518.30" y="1867.40" textLength="70.6" lengthAdjust="spacingAndGlyphs">case</text>
<text transform="translate(606.22,1868.60) scale(0.842,1)" font-size="45">(</text>
<text x="620.30" y="1867.40" textLength="43.6" lengthAdjust="spacingAndGlyphs">for</text>
<text x="681.80" y="1867.40" textLength="169.3" lengthAdjust="spacingAndGlyphs">clonotype</text>
<text x="869.30" y="1867.40" textLength="17.5" lengthAdjust="spacingAndGlyphs">1</text>
<text transform="translate(886.90,1868.60) scale(0.850,1)" font-size="45">)</text>
<text x="900.50" y="1867.40" font-size="40.5">.</text>
<text x="871" y="1819.50" font-weight="bold" textLength="24.4" lengthAdjust="spacingAndGlyphs">n</text>
<text x="896.6" y="1826.80" font-size="27" stroke="none" textLength="15" lengthAdjust="spacingAndGlyphs">0</text>
<text x="934.6" y="1823.90" stroke="none" textLength="30" lengthAdjust="spacingAndGlyphs">=</text>
</g>
</g>
</svg>
</body></html>
